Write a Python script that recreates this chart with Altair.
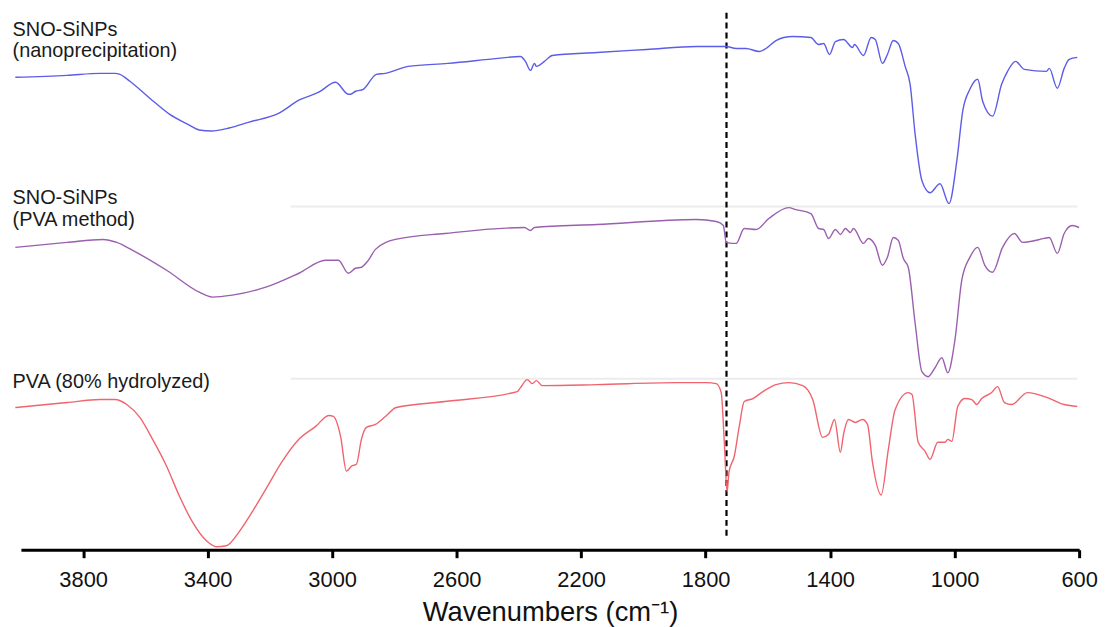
import altair as alt
import pandas as pd

# Wavenumbers (cm-1) and offset transmittance (a.u.)
wn_nano = [4018, 3852, 3746, 3698, 3682, 3650, 3586, 3523, 3459, 3427, 3388, 3331, 3267, 3171,
           3107, 3043, 2989, 2948, 2941, 2925, 2900, 2858, 2829, 2756, 2628, 2468, 2395, 2379,
           2363, 2350, 2344, 2318, 2293, 2149, 1989, 1830, 1734, 1702, 1670, 1628, 1606, 1574,
           1549, 1520, 1462, 1437, 1421, 1402, 1383, 1357, 1328, 1322, 1293, 1268, 1255, 1232,
           1216, 1197, 1181, 1159, 1143, 1127, 1105, 1079, 1047, 1018, 993, 974, 951, 926, 910,
           878, 849, 830, 804, 776, 705, 696, 670, 648, 632, 606]
t_nano = [475, 477, 479, 479, 478, 471, 454, 438, 427, 422, 421, 424, 430, 439,
          452, 460, 470, 458, 458, 461, 463, 478, 479, 486, 489, 494, 496, 491,
          482, 489, 486, 491, 497, 500, 503, 506, 506, 504, 504, 501, 504, 512,
          515, 516, 515, 508, 509, 498, 511, 513, 505, 508, 497, 515, 513, 489,
          498, 512, 509, 486, 468, 418, 371, 359, 368, 348, 391, 441, 463, 473, 451,
          436, 468, 481, 491, 483, 481, 484, 464, 484, 493, 495]

wn_pva_m = [4018, 3852, 3737, 3692, 3641, 3532, 3427, 3385, 3321, 3213, 3107, 3021, 2980,
            2948, 2925, 2906, 2884, 2861, 2797, 2638, 2382, 2363, 2350, 2149, 1830, 1766,
            1743, 1734, 1712, 1702, 1676, 1638, 1597, 1533, 1510, 1462, 1437, 1421, 1405,
            1383, 1367, 1351, 1335, 1325, 1293, 1277, 1255, 1232, 1216, 1197, 1181, 1165,
            1149, 1127, 1105, 1085, 1063, 1041, 1022, 999, 977, 951, 926, 903, 878, 846,
            808, 782, 712, 696, 670, 648, 622, 600]
t_pva_m = [304, 309, 312, 309, 301, 281, 259, 254, 256, 264, 278, 291, 291,
           278, 283, 284, 291, 302, 312, 318, 324, 321, 324, 327, 332, 330,
           326, 309, 308, 308, 323, 322, 333, 344, 342, 338, 323, 322, 313,
           322, 317, 323, 319, 323, 308, 313, 306, 286, 294, 314, 311, 293,
           284, 228, 179, 174, 183, 193, 178, 211, 271, 294, 304, 286, 279, 304,
           318, 309, 313, 314, 298, 318, 326, 324]

wn_pva = [4018, 3852, 3746, 3698, 3660, 3618, 3577, 3532, 3491, 3449, 3404, 3372, 3340,
          3299, 3257, 3213, 3162, 3107, 3053, 3011, 2996, 2973, 2954, 2938, 2922, 2906,
          2890, 2861, 2829, 2794, 2638, 2405, 2395, 2373, 2357, 2344, 2325, 2149, 1894,
          1798, 1766, 1750, 1740, 1731, 1725, 1708, 1692, 1676, 1648, 1616, 1574, 1533,
          1488, 1456, 1424, 1405, 1386, 1367, 1357, 1341, 1319, 1296, 1280, 1264, 1236,
          1213, 1191, 1149, 1137, 1117, 1095, 1079, 1054, 1031, 1022, 1009, 990, 967,
          945, 929, 913, 881, 862, 840, 817, 766, 702, 648, 606]
t_pva = [143, 148, 151, 151, 146, 133, 111, 84, 54, 28, 9, 3, 4,
         18, 38, 61, 88, 111, 124, 135, 134, 114, 79, 84, 86, 111,
         123, 126, 134, 143, 149, 159, 163, 171, 167, 170, 165, 166, 168,
         168, 167, 158, 108, 58, 78, 94, 124, 149, 152, 159, 166, 168,
         165, 151, 113, 116, 131, 98, 116, 131, 128, 131, 126, 88, 55,
         101, 141, 158, 156, 108, 99, 91, 108, 108, 111, 109, 144, 152,
         151, 146, 152, 158, 164, 148, 146, 158, 153, 146, 144]

series_names = ["SNO-SiNPs (nanoprecipitation)", "SNO-SiNPs (PVA method)", "PVA (80% hydrolyzed)"]
series_colors = ["#5c5ce8", "#9a5fae", "#f0646e"]

tick_values = [3800, 3400, 3000, 2600, 2200, 1800, 1400, 1000, 600]

label_texts = ["SNO-SiNPs\n(nanoprecipitation)", "SNO-SiNPs\n(PVA method)", "PVA (80% hydrolyzed)"]
label_wn = [4027, 4027, 4027]
label_t = [517, 348, 163]

marker_wn = [1733]
baseline_t = [345, 172]
baseline_from = [3133, 3133]
baseline_to = [606, 606]

rows = []
for name, wns, ts in zip(series_names, [wn_nano, wn_pva_m, wn_pva], [t_nano, t_pva_m, t_pva]):
    for w, t in zip(wns, ts):
        rows.append({"series": name, "wn": w, "t": t})
df = pd.DataFrame(rows)

labels_df = pd.DataFrame({"wn": label_wn, "t": label_t, "text": label_texts})
base_df = pd.DataFrame({"t": baseline_t, "x1": baseline_from, "x2": baseline_to})
marker_df = pd.DataFrame({"wn": marker_wn, "y1": [14], "y2": [541]})

xscale = alt.Scale(domain=[4000, 600], nice=False, zero=False)
yscale = alt.Scale(domain=[0, 543], nice=False, zero=False)

xaxis = alt.Axis(
    values=tick_values, format="d", grid=False,
    domainWidth=3, domainColor="black", tickWidth=3, tickColor="black", tickSize=8,
    labelFontSize=22, labelFont="Liberation Sans", labelColor="#111", labelPadding=12,
    labelFlush=False, labelOverlap=False,
    title="Wavenumbers (cm⁻¹)", titleFontSize=27.5, titleFont="Liberation Sans",
    titleFontWeight="normal", titleColor="#111", titleBaseline="alphabetic", titleY=71,
)

guides = alt.Chart(base_df).mark_rule(color="#ececec", strokeWidth=2).encode(
    x=alt.X("x1:Q", scale=xscale, axis=xaxis),
    x2="x2:Q",
    y=alt.Y("t:Q", scale=yscale, axis=None),
)

marker = alt.Chart(marker_df).mark_rule(color="black", strokeWidth=2.2, strokeDash=[6, 4]).encode(
    x=alt.X("wn:Q", scale=xscale),
    y=alt.Y("y1:Q", scale=yscale),
    y2="y2:Q",
)

lines = alt.Chart(df).mark_line(strokeWidth=1.4, interpolate="monotone", clip=False).encode(
    x=alt.X("wn:Q", scale=xscale),
    y=alt.Y("t:Q", scale=yscale),
    color=alt.Color("series:N", scale=alt.Scale(domain=series_names, range=series_colors), legend=None),
    detail="series:N",
)

texts = alt.Chart(labels_df).mark_text(
    align="left", baseline="alphabetic", font="Liberation Sans", fontSize=20,
    color="#1a1a1a", lineBreak="\n", lineHeight=22,
).encode(
    x=alt.X("wn:Q", scale=xscale),
    y=alt.Y("t:Q", scale=yscale),
    text="text:N",
)

chart = alt.layer(guides, marker, lines, texts).properties(
    width=1064, height=543,
    autosize=alt.AutoSizeParams(type="none"),
    padding={"left": 13, "top": 0, "right": 22, "bottom": 78},
    background="white",
).configure_view(stroke=None)

chart.save("out.html", embed_options={"renderer": "svg", "actions": False})
